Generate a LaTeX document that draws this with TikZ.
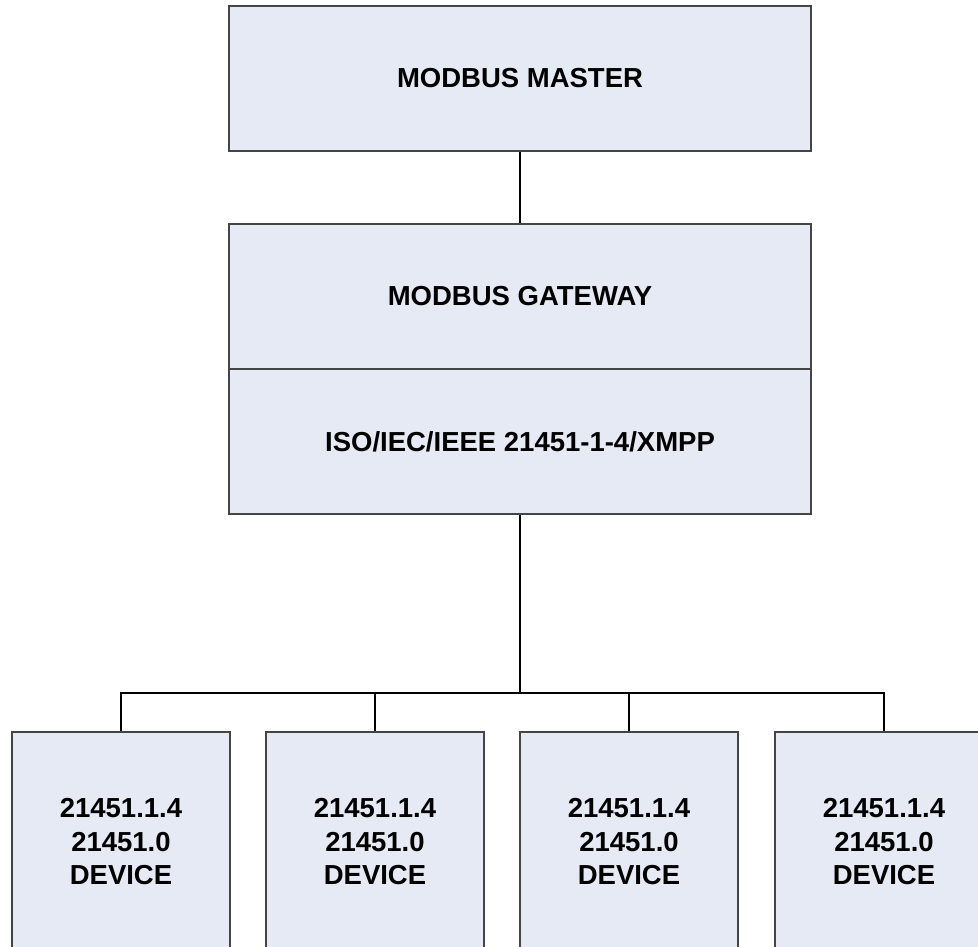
\documentclass[tikz,border=0pt]{standalone}
\usepackage{fontspec}
\setmainfont{Liberation Sans}
\definecolor{boxfill}{HTML}{E6EAF4}
\definecolor{boxline}{HTML}{454545}
\begin{document}
\begin{tikzpicture}[x=1pt,y=-1pt,
  blk/.style={draw=boxline, line width=1.2pt, fill=boxfill, inner sep=0pt,
    font=\fontsize{27.5}{33.5}\selectfont\bfseries, align=center},
  wire/.style={draw=black, line width=2.7pt}]
\useasboundingbox (0,0) rectangle (978,947);
\clip (0,0) rectangle (978,947);
\node[blk, minimum width=582pt, minimum height=145pt] (master) at (520,78.5) {MODBUS MASTER};
\node[blk, minimum width=582pt, minimum height=145pt] (gw) at (520,296.5) {MODBUS GATEWAY};
\node[blk, minimum width=582pt, minimum height=145pt] (iso) at (520,441.5) {ISO/IEC/IEEE 21451-1-4/XMPP};
\coordinate (bus) at (520,693);
\node[blk, minimum width=218pt, minimum height=220pt] (d1) at (121,842) {21451.1.4\\21451.0\\DEVICE};
\node[blk, minimum width=218pt, minimum height=220pt] (d2) at (375,842) {21451.1.4\\21451.0\\DEVICE};
\node[blk, minimum width=218pt, minimum height=220pt] (d3) at (629,842) {21451.1.4\\21451.0\\DEVICE};
\node[blk, minimum width=218pt, minimum height=220pt] (d4) at (884,842) {21451.1.4\\21451.0\\DEVICE};
\draw[wire] (master.south) -- (gw.north);
\draw[wire] (iso.south) -- (bus);
\draw[wire] (d1.north) |- (bus) -| (d4.north);
\draw[wire] (d2.north) -- (d2.north |- bus);
\draw[wire] (d3.north) -- (d3.north |- bus);
\end{tikzpicture}
\end{document}
